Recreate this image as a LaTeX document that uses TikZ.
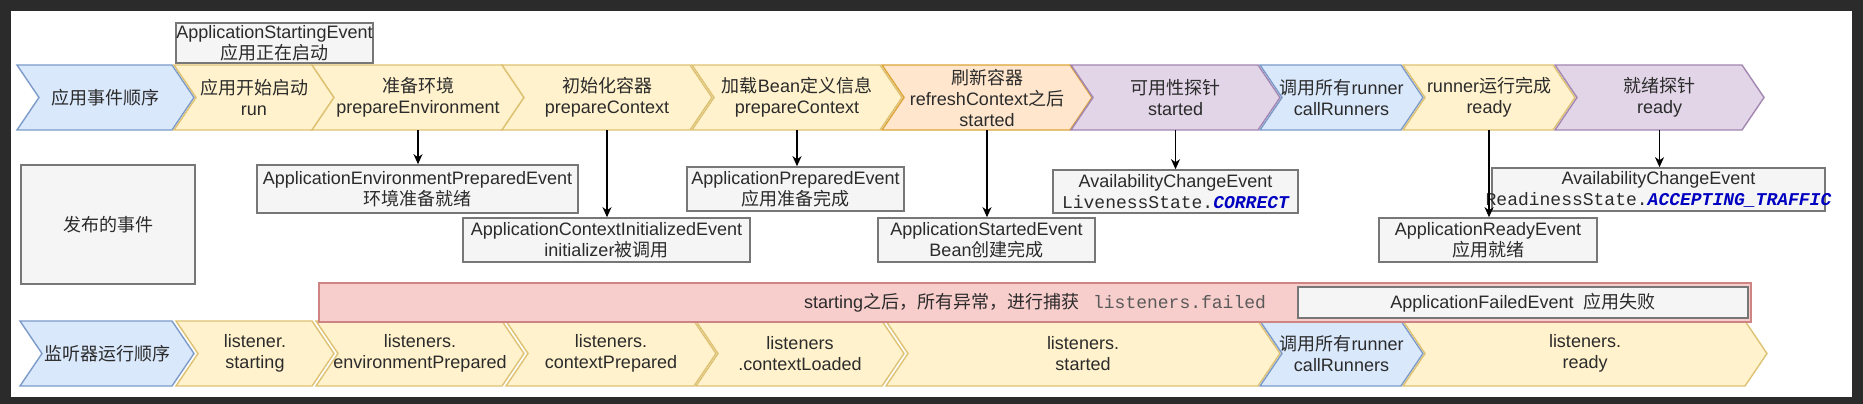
\documentclass[tikz,border=0pt]{standalone}
\usepackage{fontspec}
\setmainfont{Liberation Sans}
\setmonofont{Liberation Mono}
\newfontfamily\cjk{Noto Sans CJK SC}
\usetikzlibrary{arrows.meta}
\newcommand{\zh}[1]{{\cjk #1}}
\definecolor{bluefill}{HTML}{DAE8FC}
\definecolor{blueline}{HTML}{7C9BC9}
\definecolor{yellowfill}{HTML}{FFF2CC}
\definecolor{yellowline}{HTML}{DEC273}
\definecolor{orangefill}{HTML}{FFE6CC}
\definecolor{orangeline}{HTML}{DDA53A}
\definecolor{purplefill}{HTML}{E1D5E7}
\definecolor{purpleline}{HTML}{A386B2}
\definecolor{grayfill}{HTML}{F5F5F5}
\definecolor{grayline}{HTML}{777777}
\definecolor{redfill}{HTML}{F8CECC}
\definecolor{redline}{HTML}{CD8482}
\definecolor{codeblue}{HTML}{0000C0}
\definecolor{codegray}{HTML}{5A5A5A}
\definecolor{textc}{HTML}{2B2B2B}
\definecolor{darkbg}{HTML}{2B2B2B}

\begin{document}
\begin{tikzpicture}[x=1pt,y=-1pt,
    every node/.style={font=\fontsize{18}{21}\selectfont, align=center, inner sep=0pt, text=textc},
    stepblue/.style={draw=blueline, fill=bluefill, line width=1.4pt},
    stepyellow/.style={draw=yellowline, fill=yellowfill, line width=1.4pt},
    steporange/.style={draw=orangeline, fill=orangefill, line width=1.4pt},
    steppurple/.style={draw=purpleline, fill=purplefill, line width=1.4pt},
    evbox/.style={draw=grayline, fill=grayfill, line width=1.6pt},
    errbar/.style={draw=redline, fill=redfill, line width=1.8pt},
    arr/.style={-{Stealth[length=10pt,width=9pt,inset=3pt]}, line width=1.3pt, draw=black}]
    \useasboundingbox (0,0) rectangle (1863,404);
    \fill[darkbg] (0,0) rectangle (1863,404);
    \fill[white] (11,11) rectangle (1852,397);

    \foreach \nm/\xl/\xr/\yt/\sty/\txt in {
        s1/17/194/65/stepblue/{\zh{应用事件顺序}},
        s2/174/334/65/stepyellow/{\zh{应用开始启动}\\run},
        s3/312/524/65/stepyellow/{\zh{准备环境}\\prepareEnvironment},
        s4/502/712/65/stepyellow/{\zh{初始化容器}\\prepareContext},
        s5/692/902/65/stepyellow/{\zh{加载}Bean\zh{定义信息}\\prepareContext},
        s6/882/1092/65/steporange/{\zh{刷新容器}\\refreshContext\zh{之后}\\started},
        s7/1071/1280/65/steppurple/{\zh{可用性探针}\\started},
        s8/1260/1423/65/stepblue/{\zh{调用所有}runner\\callRunners},
        s9/1403/1575/65/stepyellow/{runner\zh{运行完成}\\ready},
        s10/1555/1764/65/steppurple/{\zh{就绪探针}\\ready},
        l1/20/194/321/stepblue/{\zh{监听器运行顺序}},
        l2/176/334/321/stepyellow/{listener.\\starting},
        l3/316/524/321/stepyellow/{listeners.\\environmentPrepared},
        l4/506/716/321/stepyellow/{listeners.\\contextPrepared},
        l5/696/904/321/stepyellow/{listeners\\.contextLoaded},
        l6/886/1280/321/stepyellow/{listeners.\\started},
        l7/1260/1423/321/stepblue/{\zh{调用所有}runner\\callRunners},
        l8/1403/1767/321/stepyellow/{listeners.\\ready}}{
        \draw[\sty] (\xl,\yt) -- (\xr-22,\yt) -- (\xr,\yt+32.5) -- (\xr-22,\yt+65) -- (\xl,\yt+65) -- (\xl+22,\yt+32.5) -- cycle;
        \node[minimum height=65pt] (\nm) at ({(\xl+\xr)/2},\yt+32.5) {\txt};
    }

    \node[evbox, minimum width=197pt, minimum height=40pt] (eStart) at (274.5,43) {ApplicationStartingEvent\\\zh{应用正在启动}};
    \node[evbox, minimum width=174pt, minimum height=119pt] (pub) at (108,224.5) {\zh{发布的事件}};
    \node[evbox, minimum width=321pt, minimum height=48pt] (eEnv) at (417.5,189) {ApplicationEnvironmentPreparedEvent\\\zh{环境准备就绪}};
    \node[evbox, minimum width=287pt, minimum height=44pt] (eCtx) at (606.5,240) {ApplicationContextInitializedEvent\\initializer\zh{被调用}};
    \node[evbox, minimum width=217pt, minimum height=44pt] (ePrep) at (795.5,189) {ApplicationPreparedEvent\\\zh{应用准备完成}};
    \node[evbox, minimum width=217pt, minimum height=44pt] (eStd) at (986.5,240) {ApplicationStartedEvent\\Bean\zh{创建完成}};
    \node[evbox, minimum width=245pt, minimum height=43pt] (eLive) at (1175.5,191.5) {AvailabilityChangeEvent\\{\ttfamily LivenessState.\textcolor{codeblue}{\bfseries\itshape CORRECT}}};
    \node[evbox, minimum width=218pt, minimum height=44pt] (eRdy) at (1488,240) {ApplicationReadyEvent\\\zh{应用就绪}};
    \node[evbox, minimum width=333pt, minimum height=43pt] (eRds) at (1658.5,189.5) {AvailabilityChangeEvent\\\makebox[0pt]{\ttfamily ReadinessState.\textcolor{codeblue}{\bfseries\itshape ACCEPTING\_TRAFFIC}}};

    \node[errbar, minimum width=1432pt, minimum height=39pt] (err) at (1035,302.5) {starting\zh{之后，所有异常，进行捕获}\hspace{14pt}\textcolor{codegray}{\ttfamily listeners.failed}};
    \node[evbox, minimum width=450pt, minimum height=31pt] (eFail) at (1523,302.5) {ApplicationFailedEvent\ \ \zh{应用失败}};

    \draw[arr] (s3.south) -- (s3.south |- eEnv.north);
    \draw[arr] (s4.south) -- (s4.south |- eCtx.north);
    \draw[arr] (s5.south) -- (s5.south |- ePrep.north);
    \draw[arr] (s6.south) -- (s6.south |- eStd.north);
    \draw[arr] (s7.south) -- (s7.south |- eLive.north);
    \draw[arr] (s9.south) -- (s9.south |- eRdy.north);
    \draw[arr] (s10.south) -- (s10.south |- eRds.north);
\end{tikzpicture}
\end{document}
